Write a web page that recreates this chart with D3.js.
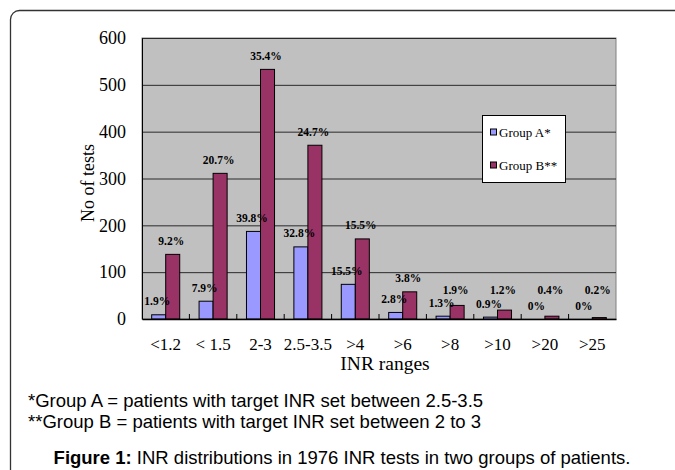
<!DOCTYPE html>
<html>
<head>
<meta charset="utf-8">
<script src="https://cdn.jsdelivr.net/npm/d3@7"></script>
<style>
  html, body { margin: 0; padding: 0; background: #ffffff; }
  svg { display: block; }
</style>
</head>
<body>
<svg id="chart" width="675" height="470"></svg>
<script>
// ---- Data ----
const categories = ["<1.2", "< 1.5", "2-3", "2.5-3.5", ">4", ">6", ">8", ">10", ">20", ">25"];
const seriesNames = ["Group A*", "Group B**"];
const groupA = [9, 38, 187, 154, 74, 14, 6, 4, 0, 0];
const groupB = [138, 311, 533, 371, 171, 58, 29, 19, 6, 3];
const labelsA = ["1.9%", "7.9%", "39.8%", "32.8%", "15.5%", "2.8%", "1.3%", "0.9%", "0%", "0%"];
const labelsB = ["9.2%", "20.7%", "35.4%", "24.7%", "15.5%", "3.8%", "1.9%", "1.2%", "0.4%", "0.2%"];
const yTicks = [0, 100, 200, 300, 400, 500, 600];
const captionLines = [
  "*Group A = patients with target INR set between 2.5-3.5",
  "**Group B = patients with target INR set between 2 to 3"
];
const figureBold = "Figure 1:";
const figureText = " INR distributions in 1976 INR tests in two groups of patients.";

// ---- Layout ----
const svg = d3.select("#chart");
const plot = { left: 142, right: 616, top: 38, bottom: 319 };
const colors = ["#9999FF", "#993366"];
const serif = "'Liberation Serif', 'Times New Roman', serif";
const sans = "'Liberation Sans', Arial, sans-serif";

// Outer frame
svg.append("rect")
  .attr("x", 10.5).attr("y", 10.5)
  .attr("width", 720).attr("height", 520)
  .attr("rx", 9).attr("ry", 9)
  .attr("fill", "none").attr("stroke", "#333").attr("stroke-width", 1.3);

const x0 = d3.scaleBand().domain(categories).range([plot.left, plot.right]).paddingInner(0).paddingOuter(0);
const x1 = d3.scaleBand().domain(seriesNames).range([0, x0.bandwidth()]).paddingInner(0).paddingOuter(0.69);
const y = d3.scaleLinear().domain([0, 600]).range([plot.bottom, plot.top]);

// Plot background
svg.append("rect")
  .attr("x", plot.left).attr("y", plot.top)
  .attr("width", plot.right - plot.left).attr("height", plot.bottom - plot.top)
  .attr("fill", "#C0C0C0").attr("stroke", "#808080").attr("stroke-width", 1);

// Gridlines
const grid = svg.append("g")
  .attr("transform", `translate(${plot.left},0)`)
  .call(d3.axisLeft(y).tickValues(yTicks.filter(v => v > 0)).tickSize(-(plot.right - plot.left)).tickFormat(""));
grid.select(".domain").remove();
grid.selectAll("line").attr("stroke", "#2a2a2a").attr("stroke-width", 1);

// Y axis labels
const yAxis = svg.append("g")
  .attr("transform", `translate(${plot.left},0)`)
  .call(d3.axisLeft(y).tickValues(yTicks).tickSize(0).tickPadding(16));
yAxis.select(".domain").attr("stroke", "#000");
yAxis.selectAll("text").attr("font-family", serif).attr("font-size", 18).attr("fill", "#000");

// Bars
const dataRows = categories.map((c, i) => ({ cat: c, vals: [groupA[i], groupB[i]], labs: [labelsA[i], labelsB[i]] }));
const groups = svg.append("g").selectAll("g").data(dataRows).join("g")
  .attr("transform", d => `translate(${x0(d.cat)},0)`);

groups.selectAll("rect")
  .data(d => d.vals.map((v, k) => ({ key: seriesNames[k], v, k })))
  .join("rect")
  .attr("x", d => x1(d.key))
  .attr("y", d => y(d.v))
  .attr("width", x1.bandwidth())
  .attr("height", d => Math.max(0, y(0) - y(d.v)))
  .attr("fill", d => colors[d.k])
  .attr("stroke", "#000").attr("stroke-width", 1);

// X axis
const xAxis = svg.append("g")
  .attr("transform", `translate(0,${plot.bottom})`)
  .call(d3.axisBottom(x0).tickSize(0).tickPadding(19));
xAxis.select(".domain").attr("stroke", "#000").attr("stroke-width", 1.3);
xAxis.selectAll("text").attr("font-family", serif).attr("font-size", 17).attr("fill", "#000");

// Boundary tick marks (pointing up into the plot)
svg.append("g").selectAll("line")
  .data(categories.slice(1))
  .join("line")
  .attr("x1", d => x0(d)).attr("x2", d => x0(d))
  .attr("y1", plot.bottom).attr("y2", plot.bottom - 5)
  .attr("stroke", "#000").attr("stroke-width", 1);

// Value labels
const labelG = svg.append("g");
dataRows.forEach(d => {
  d.vals.forEach((v, k) => {
    const cx = x0(d.cat) + x1(seriesNames[k]) + x1.bandwidth() / 2 - 1.5;
    let cy = y(v) - 13.5;
    if (k === 1) cy = Math.min(cy, 290);
    labelG.append("text")
      .attr("x", cx).attr("y", cy + 4)
      .attr("text-anchor", "middle")
      .attr("font-family", serif).attr("font-weight", "bold").attr("font-size", 11.5)
      .attr("fill", "#000")
      .text(d.labs[k]);
  });
});

// Legend
const legend = svg.append("g");
legend.append("rect")
  .attr("x", 482.5).attr("y", 115.5).attr("width", 83).attr("height", 67)
  .attr("fill", "#fff").attr("stroke", "#000").attr("stroke-width", 1);
seriesNames.forEach((name, k) => {
  const cy = 132.5 + k * 33;
  legend.append("rect")
    .attr("x", 490.5).attr("y", cy - 3.5).attr("width", 6).attr("height", 6)
    .attr("fill", colors[k]).attr("stroke", "#000").attr("stroke-width", 1);
  legend.append("text")
    .attr("x", 499).attr("y", cy + 4.5)
    .attr("font-family", serif).attr("font-size", 13).attr("fill", "#000")
    .text(name);
});

// Axis titles
svg.append("text")
  .attr("x", 385).attr("y", 370)
  .attr("text-anchor", "middle")
  .attr("font-family", serif).attr("font-size", 19.5).attr("fill", "#000")
  .text("INR ranges");
svg.append("text")
  .attr("transform", "translate(94,183) rotate(-90)")
  .attr("text-anchor", "middle")
  .attr("font-family", serif).attr("font-size", 18).attr("fill", "#000")
  .text("No of tests");

// Caption
captionLines.forEach((t, i) => {
  svg.append("text")
    .attr("x", 28).attr("y", 407 + i * 21)
    .attr("font-family", sans).attr("font-size", 18.5).attr("fill", "#000")
    .text(t);
});
const fig = svg.append("text")
  .attr("x", 342).attr("y", 464)
  .attr("text-anchor", "middle")
  .attr("font-family", sans).attr("font-size", 18.5).attr("fill", "#000");
fig.append("tspan").attr("font-weight", "bold").text(figureBold);
fig.append("tspan").text(figureText);
</script>
</body>
</html>
